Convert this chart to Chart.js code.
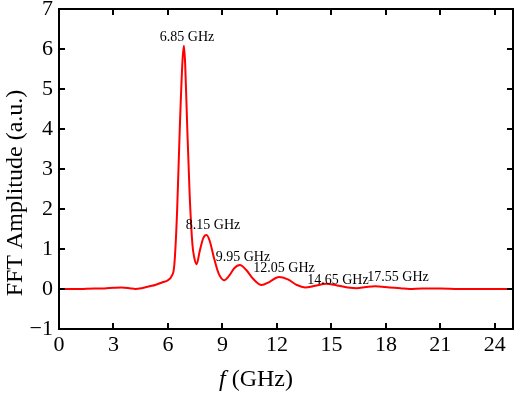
<!DOCTYPE html>
<html>
<head>
<meta charset="utf-8">
<script src="https://cdn.jsdelivr.net/npm/chart.js@4/dist/chart.umd.min.js"></script>
<style>
  body { margin: 0; background: #fff; }
</style>
</head>
<body>
<canvas id="fft" width="517" height="397"></canvas>
<script>
// frequency (GHz) and FFT amplitude
const freq = [0, 0.5, 1, 1.5, 2, 2.5, 3, 3.45, 3.9, 4.2, 4.55, 5, 5.3, 5.7, 6, 6.2, 6.35,
  6.5, 6.65, 6.8, 6.88, 6.95, 7.05, 7.2, 7.35, 7.45, 7.58, 7.75, 7.95, 8.13, 8.3, 8.55,
  8.8, 9.1, 9.35, 9.65, 9.96, 10.3, 10.7, 11.15, 11.6, 12.1, 12.6, 13.1, 13.55, 14.1,
  14.7, 15.3, 15.9, 16.4, 16.9, 17.4, 18.2, 18.8, 19.3, 20, 21, 22, 23, 24, 25];
const amp = [0, 0, 0, 0.005, 0.01, 0.015, 0.03, 0.04, 0.02, 0, 0.02, 0.07, 0.1, 0.17, 0.22, 0.32, 0.6,
  1.9, 4.0, 5.7, 6.08, 5.6, 4.2, 2.3, 1.1, 0.78, 0.62, 0.95, 1.28, 1.35, 1.2, 0.75,
  0.38, 0.22, 0.32, 0.52, 0.6, 0.48, 0.25, 0.1, 0.18, 0.3, 0.24, 0.1, 0.04, 0.08,
  0.13, 0.09, 0.04, 0.02, 0.05, 0.07, 0.04, 0.02, 0, 0.01, 0.01, 0, 0, 0, 0];

// peak labels: text and anchor (GHz, a.u.)
const peakText = ['6.85 GHz', '8.15 GHz', '9.95 GHz', '12.05 GHz', '14.65 GHz', '17.55 GHz'];
const peakX = [7.05, 8.48, 10.13, 12.39, 15.36, 18.67];
const peakY = [6.3, 1.6, 0.8, 0.52, 0.22, 0.3];

const serif = '"Liberation Serif", "Times New Roman", serif';

const frame = {
  id: 'frame',
  afterDraw(chart) {
    const ctx = chart.ctx;
    const a = chart.chartArea;
    const xs = chart.scales.x;
    const ys = chart.scales.y;
    ctx.save();
    ctx.strokeStyle = '#000';
    ctx.lineWidth = 2;
    ctx.strokeRect(a.left, a.top, a.right - a.left, a.bottom - a.top);
    // inward ticks on all four sides
    ctx.beginPath();
    xs.ticks.forEach(t => {
      const px = Math.round(xs.getPixelForValue(t.value));
      ctx.moveTo(px, a.bottom); ctx.lineTo(px, a.bottom - 6);
      ctx.moveTo(px, a.top); ctx.lineTo(px, a.top + 6);
    });
    ys.ticks.forEach(t => {
      const py = Math.round(ys.getPixelForValue(t.value));
      ctx.moveTo(a.left, py); ctx.lineTo(a.left + 6, py);
      ctx.moveTo(a.right, py); ctx.lineTo(a.right - 6, py);
    });
    ctx.stroke();

    // peak labels
    ctx.fillStyle = '#000';
    ctx.font = '14px ' + serif;
    ctx.textAlign = 'center';
    ctx.textBaseline = 'middle';
    for (let i = 0; i < peakText.length; i++) {
      ctx.fillText(peakText[i], xs.getPixelForValue(peakX[i]), ys.getPixelForValue(peakY[i]));
    }

    // axis titles
    ctx.textBaseline = 'alphabetic';
    ctx.font = '24px ' + serif;
    ctx.save();
    ctx.translate(22, 193);
    ctx.rotate(-Math.PI / 2);
    ctx.fillText('FFT Amplitude (a.u.)', 0, 0);
    ctx.restore();

    ctx.textAlign = 'left';
    ctx.font = 'italic 24px ' + serif;
    const fw = ctx.measureText('f').width;
    ctx.font = '24px ' + serif;
    const rest = ' (GHz)';
    const total = fw + ctx.measureText(rest).width;
    const x0 = 256 - total / 2;
    ctx.font = 'italic 24px ' + serif;
    ctx.fillText('f', x0, 386);
    ctx.font = '24px ' + serif;
    ctx.fillText(rest, x0 + fw, 386);
    ctx.restore();
  }
};

new Chart(document.getElementById('fft'), {
  type: 'line',
  data: {
    datasets: [{
      data: freq.map((f, i) => ({ x: f, y: amp[i] })),
      borderColor: '#ff0000',
      borderWidth: 2,
      pointRadius: 0,
      cubicInterpolationMode: 'monotone',
      fill: false
    }]
  },
  options: {
    responsive: false,
    animation: false,
    layout: { padding: { top: 9, right: 4, left: 0, bottom: 0 } },
    plugins: { legend: { display: false }, tooltip: { enabled: false } },
    scales: {
      x: {
        type: 'linear',
        min: 0,
        max: 25,
        grid: { display: false, drawTicks: false },
        border: { display: false },
        ticks: {
          stepSize: 3,
          includeBounds: false,
          color: '#000',
          padding: 3,
          maxRotation: 0,
          font: { family: serif, size: 22 }
        },
        afterFit(s) { s.height = 68; s.paddingLeft = 0; s.paddingRight = 0; }
      },
      y: {
        min: -1,
        max: 7,
        grid: { display: false, drawTicks: false },
        border: { display: false },
        ticks: {
          stepSize: 1,
          color: '#000',
          padding: 6,
          font: { family: serif, size: 22 },
          callback: v => String(v).replace('-', '\u2212')
        },
        afterFit(s) { s.width = 59; s.paddingTop = 0; s.paddingBottom = 0; }
      }
    }
  },
  plugins: [frame]
});
</script>
</body>
</html>
